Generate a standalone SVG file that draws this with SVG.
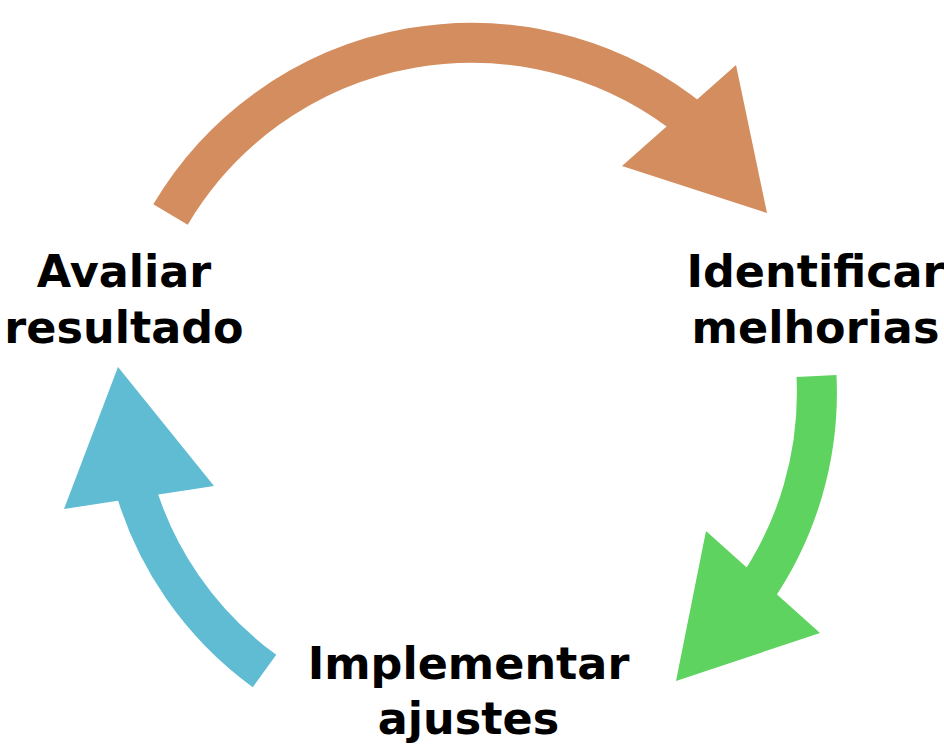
<svg xmlns="http://www.w3.org/2000/svg" width="944" height="747" viewBox="0 0 944 747">
  <style>
    .lbl { font-family: "DejaVu Sans", "Liberation Sans", sans-serif; font-weight: bold; font-size: 44.5px; fill: #000000; text-anchor: middle; }
    .shaft { fill: none; stroke-width: 40; stroke-linecap: butt; }
  </style>
  <rect width="944" height="747" fill="#ffffff"/>
  <g id="connectors">
    <g id="arrow-orange">
      <path class="shaft" stroke="#d38d5f" d="M 170.5 214.5 A 350 350 0 0 1 694.3 122.7"/>
      <polygon fill="#d38d5f" points="736,65 767,213 622,166"/>
    </g>
    <g id="arrow-green">
      <path class="shaft" stroke="#5fd35f" d="M 816.5 376.0 A 349 349 0 0 1 752.3 595.1"/>
      <polygon fill="#5fd35f" points="706,531 820,633 676,681"/>
    </g>
    <g id="arrow-blue">
      <path class="shaft" stroke="#5fbcd3" d="M 264.5 671.0 A 349 349 0 0 1 132.9 480.3"/>
      <polygon fill="#5fbcd3" points="118,367 214,486 64,509"/>
    </g>
  </g>
  <g id="node-avaliar">
    <text class="lbl" x="124" y="287">Avaliar</text>
    <text class="lbl" x="124" y="343">resultado</text>
  </g>
  <g id="node-identificar">
    <text class="lbl" x="815.5" y="287">Identificar</text>
    <text class="lbl" x="815.5" y="343">melhorias</text>
  </g>
  <g id="node-implementar">
    <text class="lbl" x="468.5" y="679">Implementar</text>
    <text class="lbl" x="468.5" y="734">ajustes</text>
  </g>
</svg>
